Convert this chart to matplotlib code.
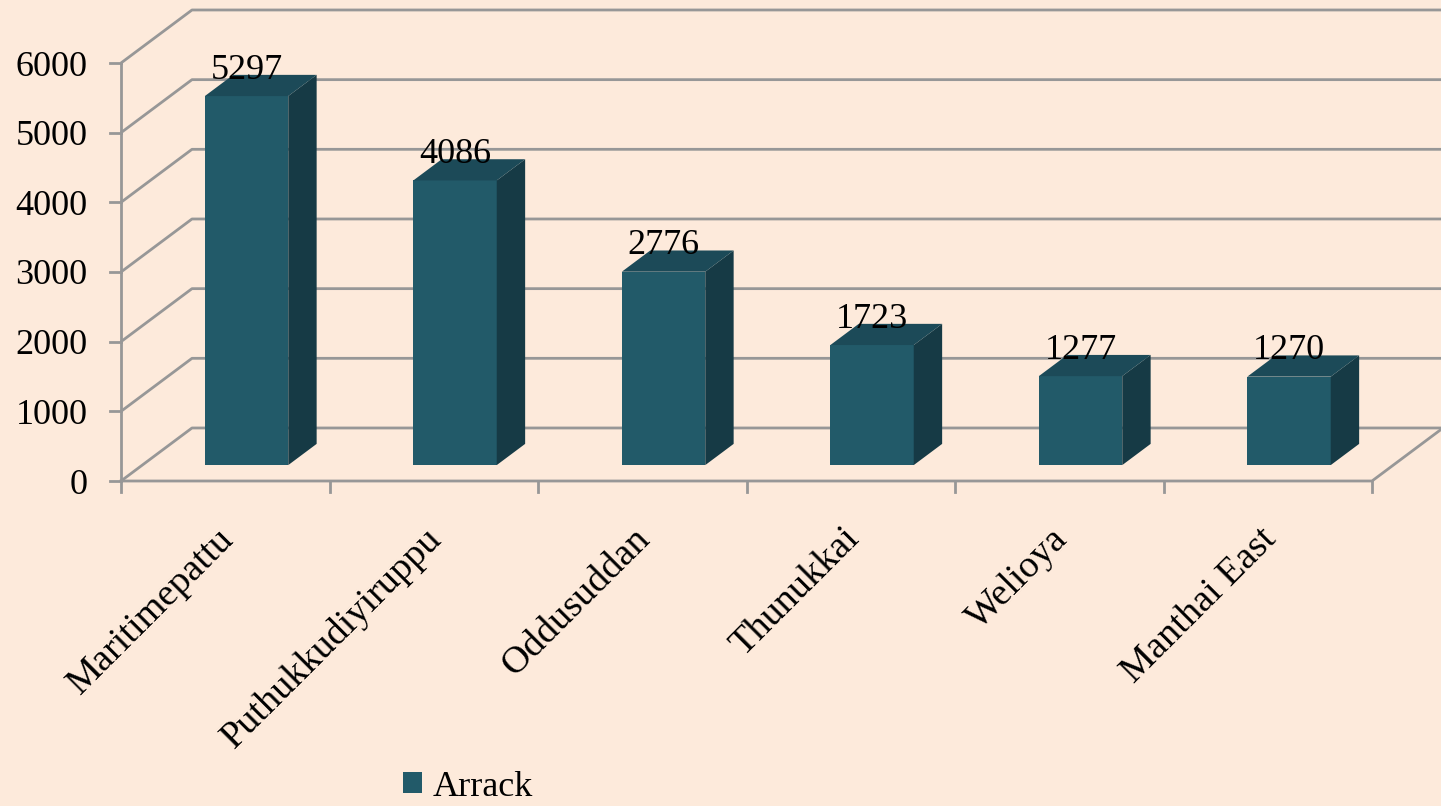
import matplotlib.pyplot as plt
from matplotlib.patches import Polygon, Patch

# ------------------------- Datos -------------------------
categories = ["Maritimepattu", "Puthukkudiyiruppu", "Oddusuddan",
              "Thunukkai", "Welioya", "Manthai East"]
arrack = [5297, 4086, 2776, 1723, 1277, 1270]
y_ticks = [0, 1000, 2000, 3000, 4000, 5000, 6000]
series_name = "Arrack"

# ------------------------- Estilo -------------------------
BG = "#fdeadb"
GRID = "#979797"
FRONT = "#225a69"
SIDE = "#163a45"
TOP = "#1c4a58"
FONT = "Liberation Serif"
FS = 26

# profundidad 3D (en unidades de categoria / valor)
DX = 0.3405
DY = 761
BAR_W = 0.4
D0, D1 = 0.30, 0.70   # posicion de la barra dentro de la profundidad

W, H = 1441, 806
fig = plt.figure(figsize=(W / 100, H / 100), dpi=100, facecolor=BG)
# plano frontal: x 121..1372 px, y 481..63 px
ax = fig.add_axes([121 / W, (H - 481) / H, 1251 / W, 418 / H])
ax.set_xlim(0, len(categories))
ax.set_ylim(0, 6000)
ax.set_axis_off()

n = len(categories)
lw = 2.0

# rejilla: pared izquierda + pared del fondo
for v in y_ticks:
    ax.plot([0, DX, n + DX], [v, v + DY, v + DY], color=GRID, lw=lw,
            clip_on=False, solid_capstyle="butt", zorder=1)
    ax.plot([-0.055, 0], [v, v], color=GRID, lw=lw, clip_on=False, zorder=1)
    ax.text(-0.16, v, str(v), ha="right", va="center_baseline",
            fontsize=FS, family=FONT, clip_on=False)

# suelo y eje
ax.plot([0, 0], [0, 6000], color=GRID, lw=lw, clip_on=False, zorder=1)
ax.plot([0, n, n + DX], [0, 0, DY], color=GRID, lw=lw, clip_on=False, zorder=1)
for i in range(n + 1):
    ax.plot([i, i], [0, -160], color=GRID, lw=lw, clip_on=False, zorder=1)

# barras
for i, (cat, v) in enumerate(zip(categories, arrack)):
    x0 = i + 0.5 - BAR_W / 2 + D0 * DX
    x1 = x0 + BAR_W
    y0 = D0 * DY
    ddx = (D1 - D0) * DX
    ddy = (D1 - D0) * DY
    front = Polygon([(x0, y0), (x1, y0), (x1, y0 + v), (x0, y0 + v)],
                    closed=True, fc=FRONT, ec="none", zorder=3, clip_on=False)
    side = Polygon([(x1, y0), (x1 + ddx, y0 + ddy), (x1 + ddx, y0 + v + ddy),
                    (x1, y0 + v)], closed=True, fc=SIDE, ec="none", zorder=3,
                   clip_on=False)
    top = Polygon([(x0, y0 + v), (x1, y0 + v), (x1 + ddx, y0 + v + ddy),
                   (x0 + ddx, y0 + v + ddy)], closed=True, fc=TOP, ec="none",
                  zorder=3, clip_on=False)
    for p in (front, side, top):
        ax.add_patch(p)
    ax.text((x0 + x1) / 2, v + 480, str(v), ha="center", va="baseline",
            fontsize=FS, family=FONT, zorder=5, clip_on=False)
    ax.text(i + 0.5 - 0.045, -580, cat, ha="right", va="top", rotation=45,
            rotation_mode="anchor", fontsize=27.5, family=FONT, clip_on=False)

# leyenda
handle = Patch(facecolor=FRONT, edgecolor="none", label=series_name)
fig.legend(handles=[handle], loc="center", bbox_to_anchor=(468 / W, 1 - 787 / H),
           frameon=False, prop={"family": FONT, "size": FS},
           handlelength=0.53, handleheight=0.53, handletextpad=0.3,
           borderpad=0.0, borderaxespad=0.0)

fig.savefig("out.png", dpi=100, facecolor=BG)
